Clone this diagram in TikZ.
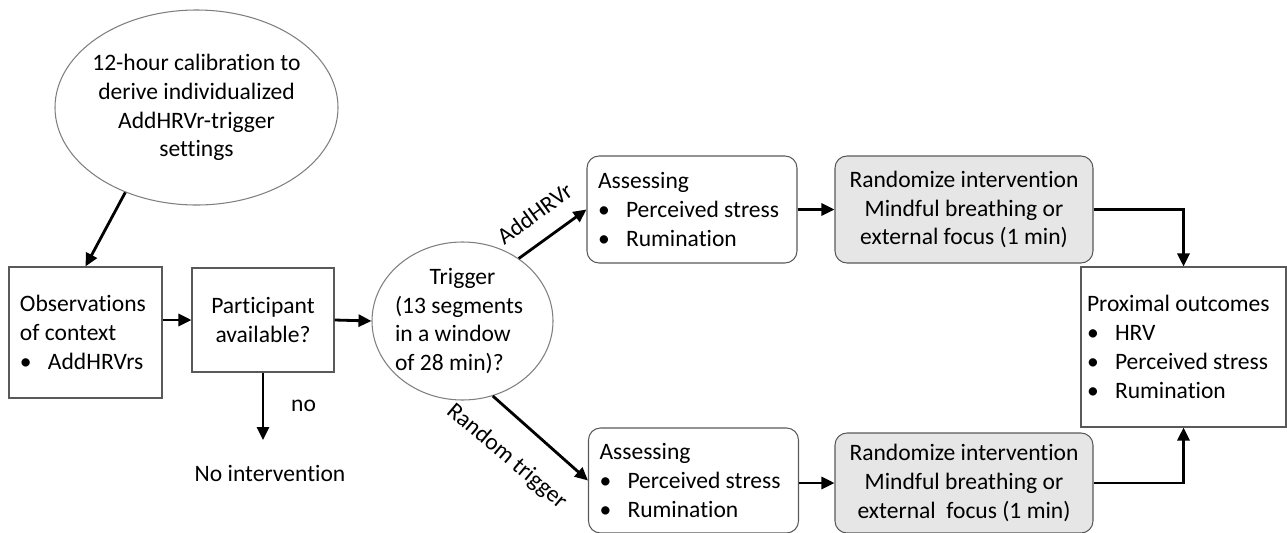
\documentclass[tikz,border=0pt]{standalone}
\usepackage{fontspec}
\setmainfont{Carlito}[Ligatures=NoCommon]
\usetikzlibrary{positioning,arrows.meta,shapes.geometric}
\definecolor{edge}{HTML}{595959}
\definecolor{ovalline}{HTML}{7F7F7F}
\definecolor{boxgray}{HTML}{E6E6E6}
\newcommand{\bul}{\makebox[5.6mm][l]{\textbullet}}
\tikzset{
  every node/.style={text=black, font=\fontsize{13.4}{16.4}\selectfont},
  blk/.style={draw=edge, line width=0.6pt, fill=#1, inner xsep=2.2mm, inner ysep=0pt},
  blk/.default=white,
  oval/.style={ellipse, draw=ovalline, line width=0.6pt, fill=white, inner ysep=0pt},
  arr/.style={-{Triangle[length=2.6mm,width=2.4mm]}, line width=1.6pt},
  lab/.style={inner sep=1pt},
}
\begin{document}
\begin{tikzpicture}[x=0.2mm,y=-0.2mm,
  sq/.style={blk, text width=26.2mm, minimum height=26.2mm, align=flush left},
  ask/.style={blk, rounded corners=2.4mm, text width=37.6mm, align=flush left},
  rnd/.style={blk=boxgray, rounded corners=2.4mm, minimum width=51.6mm, align=center},
]
\useasboundingbox (0,0) rectangle (1287,533);

% ---------------- left part ----------------
\node[oval, minimum width=56.6mm, minimum height=39mm, inner xsep=-1.5mm, align=center]
  (calib) at (196.5,107.5)
  {12-hour calibration to\\ derive individualized\\ AddHRVr-trigger\\ settings};

\node[sq] (obs) at (85.5,332.5)
  {Observations\\ of context\\ \bul AddHRVrs};

\node[blk, minimum width=28.4mm, minimum height=20.8mm, inner xsep=1mm, align=center]
  (part) at (263,320) {Participant\\ available?};

\coordinate (noend) at (263,440);
\node[lab] (noint) at (270,473) {No intervention};

\node[oval, text width=27mm, minimum width=36.2mm, minimum height=31.6mm,
      inner xsep=-0.8mm, align=flush left]
  (trig) at (462.5,321)
  {\hfill Trigger\hfill\null\\ (13 segments\\ in a window\\ of 28 min)?};

% ---------------- two branches ----------------
\node[ask, minimum height=21.4mm] (as1) at (692,209.5)
  {Assessing\\ \bul Perceived stress\\ \bul Rumination};
\node[ask, minimum height=21mm] (as2) at (693.5,480.5)
  {Assessing\\ \bul Perceived stress\\ \bul Rumination};

\node[rnd, minimum height=21.4mm] (rnd1) at (964,209.5)
  {Randomize intervention\\ Mindful breathing or\\ external focus (1 min)};
\node[rnd, minimum height=20mm] (rnd2) at (964,483)
  {Randomize intervention\\ Mindful breathing or\\ external\ \ focus (1 min)};

\node[blk, inner xsep=1.2mm, text width=38.6mm, minimum height=32mm, align=flush left]
  (prox) at (1183.5,347)
  {Proximal outcomes\\ \bul HRV\\ \bul Perceived stress\\ \bul Rumination};

% ---------------- arrows ----------------
\draw[arr] (calib.230) -- (obs.north);
\draw[arr] (obs.east |- part.west) -- (part.west);
\draw[arr] (part.east) -- (trig.west);
\draw[arr] (part.south) -- node[lab, right=5mm] {no} (noend);

\draw[arr] (trig.48) -- node[pos=0.47, anchor=south, rotate=36, inner sep=10pt] {AddHRVr} (as1.west);
\draw[arr] (trig.-68) -- node[pos=0.39, anchor=north, rotate=-40, inner sep=14pt] {Random trigger} (as2.west);

\draw[arr] (as1.east |- rnd1.west) -- (rnd1.west);
\draw[arr] (as2.east |- rnd2.west) -- (rnd2.west);
\draw[arr] (rnd1.east) -| (prox.north);
\draw[arr] (rnd2.east) -| (prox.south);

\end{tikzpicture}
\end{document}
